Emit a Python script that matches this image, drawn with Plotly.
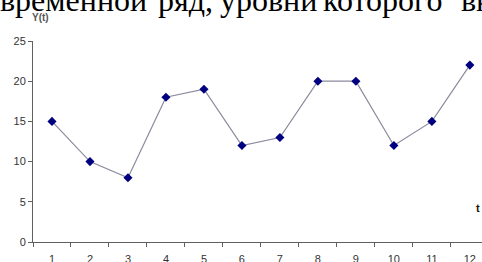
import plotly.graph_objects as go

t_values = [1, 2, 3, 4, 5, 6, 7, 8, 9, 10, 11, 12]
y_values = [15, 10, 8, 18, 19, 12, 13, 20, 20, 12, 15, 22]
y_ticks = [0, 5, 10, 15, 20, 25]
header_words = ["временной", "ряд,", "уровни", "которого", "вк"]
header_left_px = [None, 157, 219, 322, 460]

W, H = 482, 262
L, R, T, B = 33, 0, 41, 20
pw, ph = W - L - R, H - T - B

def px_to_paper_x(p):
    return (p - L) / pw

def px_to_paper_y(p):
    return (H - B - p) / ph

fig = go.Figure()
fig.add_trace(go.Scatter(
    x=t_values, y=y_values, mode="lines+markers",
    line=dict(color="#8a8a9e", width=1.2),
    marker=dict(symbol="diamond", size=7, color="#000080"),
    showlegend=False, cliponaxis=False, hoverinfo="skip",
))

header_font = dict(family="Liberation Serif, Times New Roman", size=32, color="black")
header_y = px_to_paper_y(0)
annotations = []
for word, left in zip(header_words, header_left_px):
    if left is None:
        annotations.append(dict(text=word, xref="paper", yref="paper",
                                x=px_to_paper_x(148), y=header_y,
                                xanchor="right", yanchor="middle", showarrow=False,
                                font=header_font, borderpad=0))
    else:
        annotations.append(dict(text=word, xref="paper", yref="paper",
                                x=px_to_paper_x(left), y=header_y,
                                xanchor="left", yanchor="middle", showarrow=False,
                                font=header_font, borderpad=0))

annotations += [
    dict(text="<b>Y(t)</b>", xref="paper", yref="paper",
         x=px_to_paper_x(40), y=px_to_paper_y(17), xanchor="center", yanchor="middle",
         showarrow=False, font=dict(family="Arial, Liberation Sans", size=10, color="#555555")),
    dict(text="<b>t</b>", xref="paper", yref="paper",
         x=px_to_paper_x(478), y=px_to_paper_y(208), xanchor="center", yanchor="middle",
         showarrow=False, font=dict(family="Arial, Liberation Sans", size=11, color="#111111")),
]

axis_color = "#606060"
fig.update_layout(
    width=W, height=H,
    margin=dict(l=L, r=R, t=T, b=B, autoexpand=False),
    paper_bgcolor="white", plot_bgcolor="white",
    hovermode=False,
    xaxis=dict(
        range=[0.5, 12.32], showgrid=False, zeroline=False, automargin=False,
        showline=True, linecolor=axis_color, linewidth=1,
        tickvals=t_values, ticktext=[str(v) for v in t_values],
        ticks="", ticklabelstandoff=7,
        tickfont=dict(family="Arial, Liberation Sans", size=11, color="#333333"),
        minor=dict(tickvals=[v - 0.5 for v in t_values] + [12.5], ticks="outside",
                   ticklen=4, tickcolor=axis_color, showgrid=False),
    ),
    yaxis=dict(
        range=[0, 25], showgrid=False, zeroline=False, automargin=False,
        showline=True, linecolor=axis_color, linewidth=1,
        tickvals=y_ticks, ticks="outside", ticklen=4, tickcolor=axis_color,
        tickfont=dict(family="Arial, Liberation Sans", size=11, color="#333333"),
    ),
    annotations=annotations,
)

fig.write_html("out.html", config={"displayModeBar": False},
               post_script="document.body.style.margin='0';document.body.style.overflow='hidden';")
